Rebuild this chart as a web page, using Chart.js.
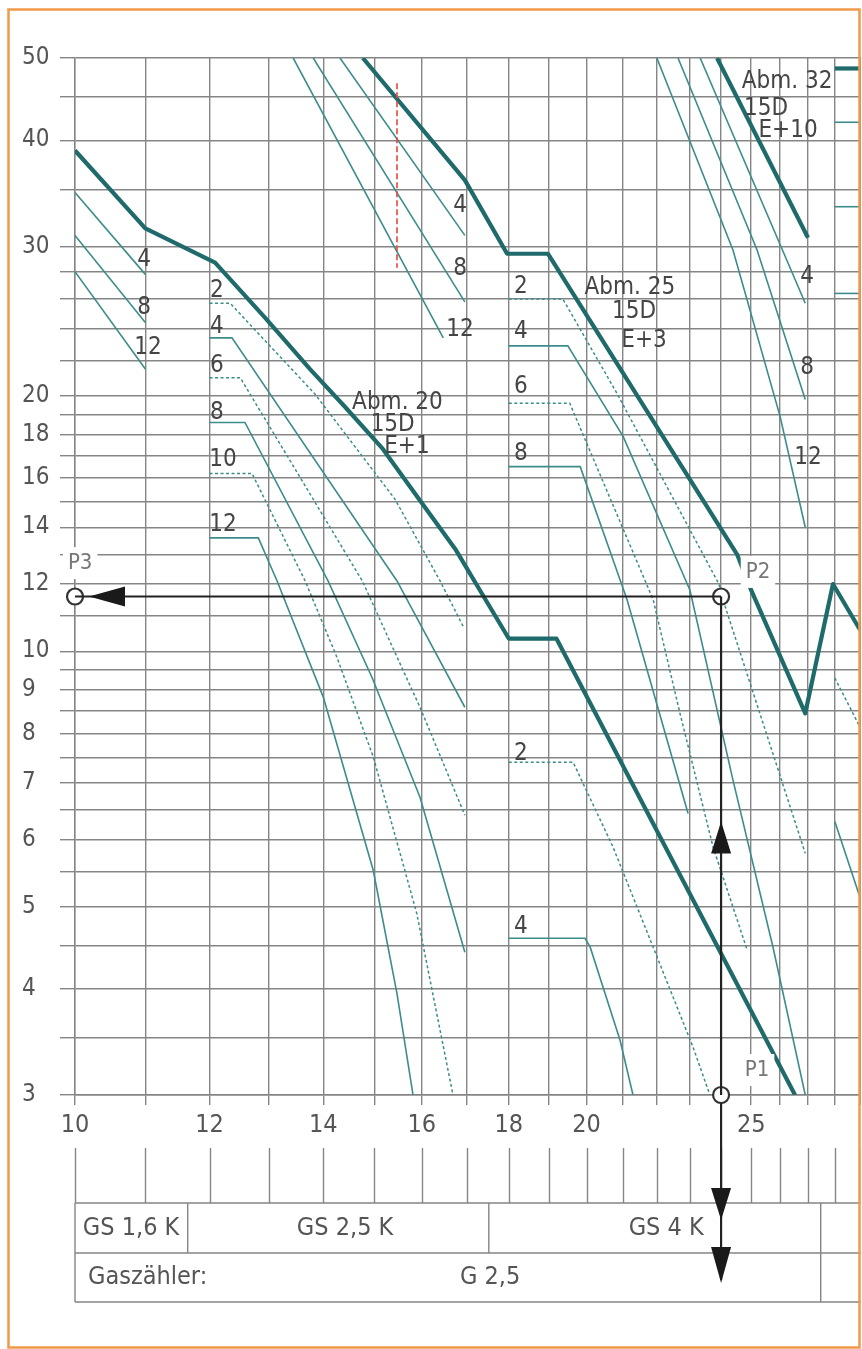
<!DOCTYPE html>
<html><head><meta charset="utf-8">
<script src="https://cdn.jsdelivr.net/npm/chart.js@4/dist/chart.umd.min.js"></script>
<style>
html,body{margin:0;padding:0;background:#fff;}
#wrap{position:relative;width:862px;height:1349px;}
canvas{display:block;}
</style></head><body>
<div id="wrap"><canvas id="c" width="862" height="1349"></canvas></div>
<script>
// ---------- axes ----------
const xGrid = [10,11,12,13,14,15,16,17,18,19,20,21,22,23,24,25,26,27,28,29];
const xTickLabels = [10,12,14,16,18,20,25];
const yGrid = [3,3.5,4,4.5,5,5.5,6,6.5,7,7.5,8,8.5,9,9.5,10,11,12,13,14,15,16,17,18,19,20,22,24,26,28,30,35,40,45,50];
const yTickLabels = [3,4,5,6,7,8,9,10,12,14,16,18,20,30,40,50];

// ---------- thick lines (Abm.) ----------
const abm20X = [10, 11, 12.09, 12.94, 13.75, 14.42, 15.18, 15.96, 16.74, 17.31, 18.0, 19.2, 26.53];
const abm20Y = [38.9, 31.5, 28.7, 24.7, 21.5, 19.4, 17.3, 15.05, 13.2, 11.8, 10.35, 10.35, 3.0];
const abm25X = [14.77, 16.96, 17.96, 18.98, 24.53, 25.0, 26.9, 27.93, 28.97];
const abm25Y = [50, 35.9, 29.4, 29.4, 13.0, 11.8, 8.45, 12.0, 10.6];
const abm32X = [23.87, 27.0];
const abm32Y = [50, 30.7];
const abm32bX = [28.0, 29.05];
const abm32bY = [48.6, 48.6];

// ---------- thin lines ----------
const a4X = [10, 11], a4Y = [34.7, 27.8];
const a8X = [10, 11], a8Y = [30.9, 24.4];
const a12X = [10, 11], a12Y = [28.0, 21.5];

const c4X = [14.32, 16.96], c4Y = [50, 30.9];
const c8X = [13.81, 16.96], c8Y = [50, 25.8];
const c12X = [13.44, 16.47], c12Y = [50, 23.4];

const b2X = [12.0, 12.34, 13.84, 15.43, 16.40, 16.92], b2Y = [25.7, 25.7, 20.1, 15.1, 12.1, 10.7];
const b4X = [12.0, 12.37, 15.47, 16.96], b4Y = [23.4, 23.4, 12.1, 8.59];
const b6X = [12.0, 12.51, 14.76, 15.96, 16.96], b6Y = [21.0, 21.0, 12.1, 8.59, 6.41];
const b8X = [12.0, 12.59, 14.09, 14.96, 15.96, 16.96], b8Y = [18.6, 18.6, 12.1, 9.3, 6.73, 4.42];
const b10X = [12.0, 12.71, 13.66, 14.26, 14.98, 15.89, 16.69], b10Y = [16.2, 16.2, 12.1, 9.84, 7.51, 4.91, 3.0];
const b12X = [12.0, 12.82, 13.15, 14.00, 14.98, 15.47, 15.81], b12Y = [13.6, 13.6, 12.1, 8.83, 5.52, 3.95, 3.0];

const d2X = [18.0, 19.37, 20.85, 23.93, 24.13, 26.9], d2Y = [26.0, 26.0, 20.1, 12.0, 11.3, 5.78];
const d4X = [18.0, 19.50, 21.02, 23.01, 24.39, 25.75, 26.9], d4Y = [22.9, 22.9, 17.9, 11.8, 7.05, 4.48, 3.0];
const d6X = [18.0, 19.55, 21.89, 22.70, 23.74, 24.86], d6Y = [19.6, 19.6, 11.5, 8.45, 5.88, 4.45];
const d8X = [18.0, 19.83, 21.13, 22.95], d8Y = [16.5, 16.5, 11.5, 6.44];
const d2lX = [18.0, 19.64, 20.73, 21.89, 23.10, 23.64], d2lY = [7.4, 7.4, 5.88, 4.48, 3.42, 3.0];
const d4lX = [18.0, 19.96, 20.10, 20.93, 21.30], d4lY = [4.59, 4.59, 4.48, 3.48, 3.0];

const e4X = [23.33, 26.9], e4Y = [50, 25.7];
const e8X = [22.64, 25.20, 26.9], e8Y = [50, 29.7, 19.8];
const e12X = [22.0, 24.39, 26.0, 26.9], e12Y = [50, 29.7, 18.9, 14.0];

const f1X = [28.0, 29.05], f1Y = [42.0, 42.0];
const f2X = [28.0, 29.05], f2Y = [33.4, 33.4];
const f3X = [28.0, 29.05], f3Y = [26.4, 26.4];
const f4X = [28.0, 28.97], f4Y = [9.3, 8.14];
const f5X = [28.0, 28.97], f5Y = [6.3, 5.13];

const redX = [15.47, 15.47], redY = [46.7, 28.3];

// ---------- example points ----------
const pNames = ['P3', 'P2', 'P1'];
const pX = [10, 24, 24];
const pY = [11.6, 11.6, 3.0];

// ---------- table below ----------
const regBounds = [10, 11.65, 17.52, 27.47];
const regNames = ['GS 1,6 K', 'GS 2,5 K', 'GS 4 K'];
const regTextX = [10.79, 14.42, 22.28];
const meterTitle = 'Gaszähler:';
const meterName = 'G 2,5';
const meterTextX = 17.55;

// ---------- text annotations (data coords) ----------
const curveLabels = [
  ['4',10.98,28.9],['8',10.98,25.4],['12',11.04,22.8],
  ['2',12.12,26.6],['4',12.12,24.1],['6',12.12,21.7],['8',12.12,19.1],['10',12.22,16.8],['12',12.22,14.1],
  ['4',16.85,33.5],['8',16.85,28.2],['12',16.85,23.9],
  ['2',18.3,26.9],['4',18.3,23.8],['6',18.3,20.5],['8',18.3,17.1],['2',18.3,7.58],['4',18.3,4.73],
  ['4',26.97,27.6],['8',26.97,21.6],['12',27.0,16.9]
];
const abmLabels = [
  ['Abm. 20',15.48,19.6],['15D',15.38,18.5],['E+1',15.68,17.4],
  ['Abm. 25',21.21,26.8],['15D',21.33,25.1],['E+3',21.62,23.2],
  ['Abm. 32',26.25,46.9],['15D',25.51,43.6],['E+10',26.28,41.0]
];
const pLabelPos = [[10.07,12.7],[25.23,12.4],[25.2,3.21]];

// ---------- styles ----------
const F = "'Liberation Sans Narrow','Arial Narrow','DejaVu Sans Condensed',sans-serif";
const TEAL_DARK = '#1f6a6a';
const TEAL = '#3d8c8c';
const GRID = '#858585';
const TEXT = '#454545';

const pts = (xs, ys) => xs.map((x, i) => ({x, y: ys[i]}));
const datasets = [];
datasets.push({data: pts([pX[0], pX[1]], [pY[0], pY[1]]), borderColor:'#222', borderWidth:2.2, pointRadius:0, showLine:true});
datasets.push({data: pts([pX[2], pX[1]], [pY[2], pY[1]]), borderColor:'#222', borderWidth:2.2, pointRadius:0, showLine:true, clip:false});
datasets.push({data: pts(pX, pY), showLine:false, pointRadius:8, pointBorderWidth:2.2, pointBorderColor:'#333', pointBackgroundColor:'#fff', clip:false});

function line(xs, ys, kind){
  const ds = {data: pts(xs, ys), showLine:true, pointRadius:0, fill:false, tension:0};
  if (kind === 'thick'){ ds.borderColor = TEAL_DARK; ds.borderWidth = 4.2; ds.borderJoinStyle='round'; }
  else if (kind === 'dash'){ ds.borderColor = TEAL; ds.borderWidth = 1.5; ds.borderDash = [3,2.5]; }
  else if (kind === 'red'){ ds.borderColor = '#e5483c'; ds.borderWidth = 1.6; ds.borderDash = [6,3]; }
  else { ds.borderColor = TEAL; ds.borderWidth = 1.6; }
  datasets.push(ds);
}
line(redX, redY, 'red');
line(abm20X, abm20Y, 'thick');
line(abm25X, abm25Y, 'thick');
line(abm32X, abm32Y, 'thick');
line(abm32bX, abm32bY, 'thick');
[[a4X,a4Y],[a8X,a8Y],[a12X,a12Y],[c4X,c4Y],[c8X,c8Y],[c12X,c12Y],
 [b4X,b4Y],[b8X,b8Y],[b12X,b12Y],[d4X,d4Y],[d8X,d8Y],[d4lX,d4lY],
 [e4X,e4Y],[e8X,e8Y],[e12X,e12Y],[f1X,f1Y],[f2X,f2Y],[f3X,f3Y],[f5X,f5Y]].forEach(([a,b]) => line(a,b,'solid'));
[[b2X,b2Y],[b6X,b6Y],[b10X,b10Y],[d2X,d2Y],[d6X,d6Y],[d2lX,d2lY],[f4X,f4Y]].forEach(([a,b]) => line(a,b,'dash'));

function tri(ctx, ax, ay, bx1, by1, bx2, by2){
  ctx.beginPath(); ctx.moveTo(ax, ay); ctx.lineTo(bx1, by1); ctx.lineTo(bx2, by2); ctx.closePath(); ctx.fill();
}

const extras = {
  id: 'extras',
  afterDatasetsDraw(chart){
    const {ctx, scales:{x: sx, y: sy}} = chart;
    ctx.save();
    ctx.textAlign = 'center'; ctx.textBaseline = 'middle';
    ctx.fillStyle = TEXT;
    ctx.font = `24px ${F}`;
    curveLabels.forEach(([t, vx, vy]) => ctx.fillText(t, sx.getPixelForValue(vx), sy.getPixelForValue(vy)));
    abmLabels.forEach(([t, vx, vy]) => ctx.fillText(t, sx.getPixelForValue(vx), sy.getPixelForValue(vy)));
    ctx.font = `22px ${F}`;
    pNames.forEach((t, i) => {
      const px = sx.getPixelForValue(pLabelPos[i][0]), py = sy.getPixelForValue(pLabelPos[i][1]);
      const w = ctx.measureText(t).width;
      ctx.fillStyle = '#fff';
      ctx.fillRect(px - w/2 - 5, py - 16, w + 10, 32);
      ctx.fillStyle = '#777';
      ctx.fillText(t, px, py);
    });
    ctx.fillStyle = '#1a1a1a';
    const p3x = sx.getPixelForValue(pX[0]), pyH = sy.getPixelForValue(pY[0]);
    tri(ctx, p3x + 14, pyH, p3x + 50, pyH - 10, p3x + 50, pyH + 10);
    const vx = sx.getPixelForValue(pX[1]);
    const upTip = sy.getPixelForValue(6.3);
    tri(ctx, vx, upTip, vx - 10, upTip + 32, vx + 10, upTip + 32);
    ctx.restore();
  },
  afterDraw(chart){
    const {ctx, chartArea: ca, scales:{x: sx}} = chart;
    const b = ca.bottom;
    ctx.save();
    ctx.strokeStyle = GRID; ctx.lineWidth = 1.4;
    xGrid.forEach(v => {
      const px = Math.round(sx.getPixelForValue(v)) + 0.5;
      ctx.beginPath(); ctx.moveTo(px, b + 53); ctx.lineTo(px, b + 108); ctx.stroke();
    });
    const L = ca.left, R = ca.right;
    const t0 = b + 108, t1 = b + 158, t2 = b + 207;
    ctx.beginPath();
    ctx.moveTo(L, t0); ctx.lineTo(R, t0);
    ctx.moveTo(L, t1); ctx.lineTo(R, t1);
    ctx.moveTo(L, t2); ctx.lineTo(R, t2);
    ctx.moveTo(L, t0); ctx.lineTo(L, t2);
    regBounds.slice(1).forEach(v => { const px = sx.getPixelForValue(v); ctx.moveTo(px, t0); ctx.lineTo(px, t1); });
    const last = sx.getPixelForValue(regBounds[regBounds.length - 1]);
    ctx.moveTo(last, t1); ctx.lineTo(last, t2);
    ctx.stroke();
    ctx.fillStyle = '#555'; ctx.font = `25px ${F}`; ctx.textBaseline = 'middle'; ctx.textAlign = 'center';
    regNames.forEach((t, i) => ctx.fillText(t, sx.getPixelForValue(regTextX[i]), (t0 + t1) / 2));
    ctx.textAlign = 'left';
    ctx.fillText(meterTitle, L + 13, (t1 + t2) / 2);
    ctx.textAlign = 'center';
    ctx.fillText(meterName, sx.getPixelForValue(meterTextX), (t1 + t2) / 2);
    const vx = sx.getPixelForValue(pX[2]);
    ctx.strokeStyle = '#222'; ctx.lineWidth = 2.2;
    ctx.beginPath(); ctx.moveTo(vx, b + 8); ctx.lineTo(vx, b + 185); ctx.stroke();
    ctx.fillStyle = '#1a1a1a';
    tri(ctx, vx, b + 125, vx - 10, b + 93, vx + 10, b + 93);
    tri(ctx, vx, b + 188, vx - 10, b + 152, vx + 10, b + 152);
    // blank margin outside the frame, then the orange frame
    ctx.fillStyle = '#fff';
    ctx.fillRect(861, 0, 10, chart.height);
    ctx.strokeStyle = '#ef9a4a'; ctx.lineWidth = 2.5;
    ctx.strokeRect(8.5, 9.5, 851, 1338);
    ctx.restore();
  }
};

new Chart(document.getElementById('c'), {
  type: 'scatter',
  data: { datasets },
  options: {
    responsive: false, animation: false, devicePixelRatio: 1,
    layout: { autoPadding: false, padding: { left: 22, top: 58, right: 0, bottom: 0 } },
    plugins: { legend: {display:false}, tooltip: {enabled:false} },
    scales: {
      x: {
        type: 'logarithmic', min: 10, max: 29.05,
        afterBuildTicks: s => { s.ticks = xGrid.map(v => ({value: v})); },
        afterFit: s => { s.height = 254; s.paddingRight = 0; s.paddingLeft = 0; },
        ticks: { autoSkip:false, maxRotation:0, minRotation:0, padding:5, color:'#555',
                 font:{family:F, size:25}, callback: v => xTickLabels.includes(v) ? String(v) : '' },
        grid: { color: GRID, lineWidth: 1.4, tickLength: 10 },
        border: { color: GRID, width: 1.4 }
      },
      y: {
        type: 'logarithmic', min: 3, max: 50,
        afterBuildTicks: s => { s.ticks = yGrid.map(v => ({value: v})); },
        afterFit: s => { s.width = 53; s.paddingTop = 0; s.paddingBottom = 0; },
        ticks: { autoSkip:false, crossAlign:'far', padding:4, color:'#555',
                 font:{family:F, size:24}, callback: v => yTickLabels.includes(v) ? String(v) : '' },
        grid: { color: GRID, lineWidth: 1.4, tickLength: 15 },
        border: { color: GRID, width: 1.4 }
      }
    }
  },
  plugins: [extras]
});
</script>
</body></html>
